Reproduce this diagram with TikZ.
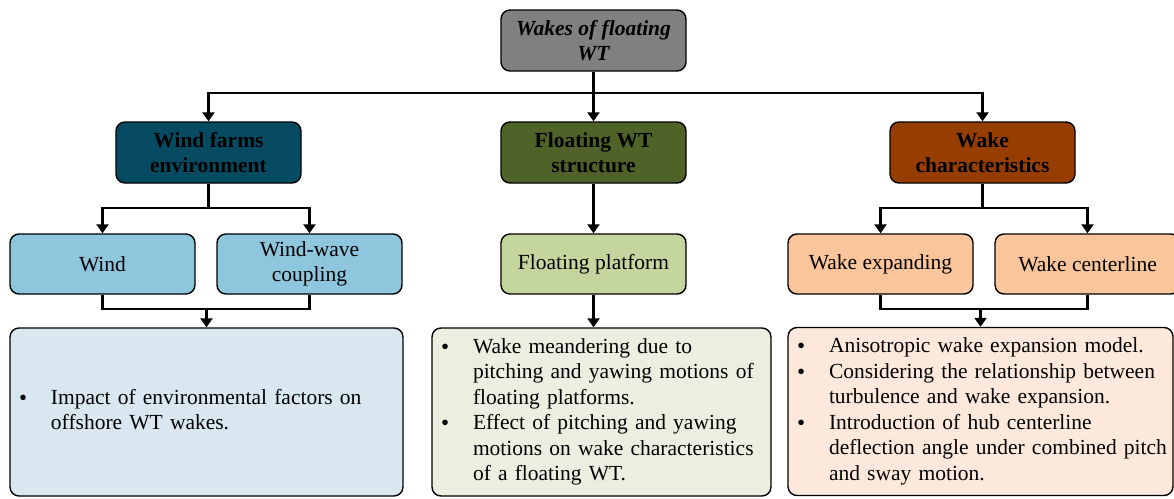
\documentclass[tikz,border=0pt]{standalone}
\usepackage{fontspec}
\setmainfont{Liberation Serif}
\usetikzlibrary{arrows.meta}

\definecolor{rootgray}{HTML}{808080}
\definecolor{envdark}{HTML}{074B63}
\definecolor{strdark}{HTML}{4F6228}
\definecolor{wakdark}{HTML}{963E02}
\definecolor{envmid}{HTML}{8EC6DD}
\definecolor{strmid}{HTML}{C4D59E}
\definecolor{wakmid}{HTML}{FBC59B}
\definecolor{envlight}{HTML}{D8E7F0}
\definecolor{strlight}{HTML}{EDEEDF}
\definecolor{waklight}{HTML}{FDE9DB}

% list bullet, a little heavier than the text bullet
\newcommand\notebullet{\makebox[8pt][l]{\smash{\raisebox{-1pt}{\fontsize{23}{0}\selectfont\textbullet}}}}

\begin{document}
\begin{tikzpicture}[x=1pt,y=-1pt,
  box/.style={draw=black, line width=1.4pt, rounded corners=9pt, inner sep=0pt,
    align=center, font=\fontsize{21.5}{25.5}\selectfont},
  headbox/.style={box, minimum width=185pt, minimum height=61pt,
    font=\bfseries\fontsize{21.5}{25}\selectfont},
  subbox/.style={box, minimum width=185pt, minimum height=60pt},
  notebox/.style={box, minimum height=168pt, inner xsep=9pt, align=left},
  link/.style={line width=2.4pt},
  arr/.style={link, -{Triangle[width=12pt,length=9pt]}}]
\useasboundingbox (0,0) rectangle (1174,498);

% root
\node[headbox, fill=rootgray, font=\bfseries\itshape\fontsize{21.5}{25}\selectfont]
  (root) at (593.5,40.5) {Wakes of floating\\WT};

% second level
\node[headbox, fill=envdark] (env) at (208.5,152.5) {Wind farms\\environment};
\node[headbox, fill=strdark] (str) at (593.5,152.5) {Floating WT\\structure};
\node[headbox, fill=wakdark] (wak) at (982.5,152.5) {Wake\\characteristics};

% third level
\node[subbox, fill=envmid] (wind) at (102.5,264) {Wind};
\node[subbox, fill=envmid] (wwc) at (309.5,264) {Wind-wave\\coupling};
\node[subbox, fill=strmid] (plat) at (593.5,264) {Floating platform};
\node[subbox, fill=wakmid] (wexp) at (880.5,264) {Wake expanding};
\node[subbox, fill=wakmid] (wcen) at (1087.5,264) {Wake centerline};

% findings
\node[notebox, fill=envlight, minimum width=393pt, text width=375pt] (envnote) at (206.5,412)
  {\begin{tabular}{@{}l@{\hspace{24pt}}l@{}}
   \notebullet & Impact of environmental factors on\\
   & offshore WT wakes.
   \end{tabular}};
\node[notebox, fill=strlight, minimum width=339pt, text width=321pt] (strnote) at (601.5,412)
  {\begin{tabular}{@{}l@{\hspace{24pt}}l@{}}
   \notebullet & Wake meandering due to\\
   & pitching and yawing motions of\\
   & floating platforms.\\
   \notebullet & Effect of pitching and yawing\\
   & motions on wake characteristics\\
   & of a floating WT.
   \end{tabular}};
\node[notebox, fill=waklight, minimum width=385pt, text width=367pt] (waknote) at (980.5,411.5)
  {\begin{tabular}{@{}l@{\hspace{24pt}}l@{}}
   \notebullet & Anisotropic wake expansion model.\\
   \notebullet & Considering the relationship between\\
   & turbulence and wake expansion.\\
   \notebullet & Introduction of hub centerline\\
   & deflection angle under combined pitch\\
   & and sway motion.
   \end{tabular}};

% root to second level
\draw[arr] (root.south) -- ++(0,21) -| (env.north);
\draw[arr] (root.south) -- ++(0,21) -| (wak.north);
\draw[arr] (root.south) -- (str.north);

% second to third level
\draw[arr] (env.south) -- ++(0,24) -| (wind.north);
\draw[arr] (env.south) -- ++(0,24) -| (wwc.north);
\draw[arr] (str.south) -- (plat.north);
\draw[arr] (wak.south) -- ++(0,24) -| (wexp.north);
\draw[arr] (wak.south) -- ++(0,24) -| (wcen.north);

% third level to findings
\draw[link] (wind.south) -- ++(0,14) coordinate (envbus) -| (wwc.south);
\draw[arr] (envbus -| envnote.north) -- (envnote.north);
\draw[arr] (plat.south) -- (plat.south |- strnote.north);
\draw[link] (wexp.south) -- ++(0,14) coordinate (wakbus) -| (wcen.south);
\draw[arr] (wakbus -| waknote.north) -- (waknote.north);
\end{tikzpicture}
\end{document}
